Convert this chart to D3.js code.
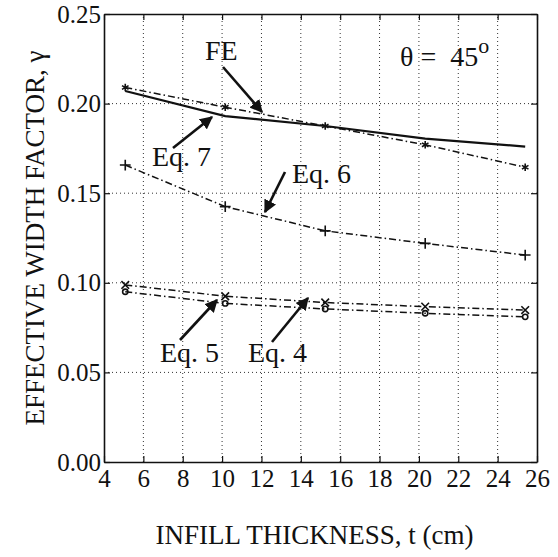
<!DOCTYPE html>
<html><head><meta charset="utf-8">
<script src="https://cdn.jsdelivr.net/npm/d3@7"></script>
</head>
<body style="margin:0;background:#fff"><svg id="c" width="558" height="557" font-family="Tinos, 'Liberation Serif', 'Times New Roman', serif"></svg>
<script>
const thickness = [5.08, 10.16, 15.24, 20.32, 25.4];
const feValues  = [0.209, 0.198, 0.1875, 0.177, 0.1645];
const eq7Values = [0.207, 0.193, 0.1875, 0.1805, 0.176];
const eq6Values = [0.1657, 0.1425, 0.129, 0.122, 0.1155];
const eq4Values = [0.0988, 0.0925, 0.089, 0.0867, 0.0848];
const eq5Values = [0.095, 0.0885, 0.0854, 0.083, 0.081];
const xTicks = [4,6,8,10,12,14,16,18,20,22,24,26];
const yTicks = [0, 0.05, 0.10, 0.15, 0.20, 0.25];
const xTitle = "INFILL THICKNESS, t (cm)";
const yTitle = "EFFECTIVE WIDTH FACTOR, \u03b3";

const W=558,H=557, m={l:104,r:21,t:14,b:95};
const svg=d3.select("#c");
const x=d3.scaleLinear().domain([4,26]).range([m.l,W-m.r]);
const y=d3.scaleLinear().domain([0,0.25]).range([H-m.b,m.t]);
const txt=(sel,size)=>sel.attr("font-size",size).attr("fill","#111");

// grid
const g=svg.append("g");
g.selectAll(".gx").data(xTicks.slice(1,-1)).join("line")
 .attr("x1",d=>x(d)).attr("x2",d=>x(d)).attr("y1",y(0)).attr("y2",y(0.25))
 .attr("stroke","#333").attr("stroke-width",1).attr("stroke-dasharray","1,3");
g.selectAll(".gy").data(yTicks.slice(1,-1)).join("line")
 .attr("y1",d=>y(d)).attr("y2",d=>y(d)).attr("x1",x(4)).attr("x2",x(26))
 .attr("stroke","#333").attr("stroke-width",1).attr("stroke-dasharray","1,3");

// axes
const ax=svg.append("g").attr("transform",`translate(0,${y(0)})`)
 .call(d3.axisBottom(x).tickValues(xTicks).tickSizeInner(-6).tickSizeOuter(0).tickPadding(7).tickFormat(d3.format("d")));
const axT=svg.append("g").attr("transform",`translate(0,${y(0.25)})`)
 .call(d3.axisTop(x).tickValues(xTicks).tickSizeInner(-6).tickSizeOuter(0).tickFormat(""));
const ay=svg.append("g").attr("transform",`translate(${x(4)},0)`)
 .call(d3.axisLeft(y).tickValues(yTicks).tickSizeInner(-6).tickSizeOuter(0).tickPadding(3).tickFormat(d3.format(".2f")));
const ayR=svg.append("g").attr("transform",`translate(${x(26)},0)`)
 .call(d3.axisRight(y).tickValues(yTicks).tickSizeInner(-6).tickSizeOuter(0).tickFormat(""));
[ax,axT,ay,ayR].forEach(a=>{
  a.attr("font-family",null).attr("font-size",null);
  a.select(".domain").attr("stroke","#111").attr("stroke-width",1.6);
  a.selectAll(".tick line").attr("stroke","#111").attr("stroke-width",1.2);
  txt(a.selectAll("text"),25);});
ax.selectAll("text").attr("font-size",25);
ay.selectAll("text").attr("dy","0.32em");

// lines
const line=vals=>d3.line().x((d,i)=>x(thickness[i])).y(d=>y(d))(vals);
const dd="7,3,1.5,3";
const series=[
 {v:feValues,dash:dd,w:1.5,sym:d3.symbolAsterisk},
 {v:eq7Values,dash:null,w:2.2,sym:null},
 {v:eq6Values,dash:dd,w:1.5,sym:d3.symbolPlus},
 {v:eq4Values,dash:dd,w:1.5,sym:d3.symbolX},
 {v:eq5Values,dash:dd,w:1.5,sym:d3.symbolCircle},
];
series.forEach(s=>{
 svg.append("path").attr("d",line(s.v)).attr("fill","none").attr("stroke","#111")
   .attr("stroke-width",s.w).attr("stroke-dasharray",s.dash);
 if(s.sym){
  svg.selectAll(null).data(s.v).join("path")
   .attr("transform",(d,i)=>`translate(${x(thickness[i])},${y(d)})`)
   .attr("d",d3.symbol().type(s.sym).size(s.sym===d3.symbolCircle?22:40))
   .attr("fill",s.sym===d3.symbolCircle?"none":"#111").attr("stroke","#111").attr("stroke-width",1.6);
 }
});

// annotations
const ann=[
 {t:"FE",tx:205,ty:60,a:[223,67,262,112]},
 {t:"Eq. 7",tx:152,ty:166,a:[173,148,212,117]},
 {t:"Eq. 6",tx:292,ty:183,a:[285,172,265,212]},
 {t:"Eq. 5",tx:160,ty:362,a:[180,340,217,300]},
 {t:"Eq. 4",tx:248,ty:362,a:[272,342,308,298]},
];
svg.append("defs").append("marker").attr("id","ah").attr("viewBox","0 0 10 10")
 .attr("refX",9).attr("refY",5).attr("markerWidth",5).attr("markerHeight",5).attr("orient","auto")
 .append("path").attr("d","M0,0L10,5L0,10z").attr("fill","#111");
ann.forEach(a=>{
 txt(svg.append("text").attr("x",a.tx).attr("y",a.ty),28).text(a.t);
 svg.append("line").attr("x1",a.a[0]).attr("y1",a.a[1]).attr("x2",a.a[2]).attr("y2",a.a[3])
  .attr("stroke","#111").attr("stroke-width",2.6).attr("marker-end","url(#ah)");
});
const th=txt(svg.append("text").attr("x",400).attr("y",66),28);
th.append("tspan").text("\u03b8 =\u00a0\u00a045");
th.append("tspan").attr("dy",-13).attr("font-size",22).text("o");

// titles
txt(svg.append("text").attr("x",(x(4)+x(26))/2-6).attr("y",544).attr("text-anchor","middle"),27).text(xTitle);
txt(svg.append("text").attr("transform",`translate(44,${(y(0)+y(0.25))/2}) rotate(-90)`)
 .attr("text-anchor","middle"),27).text(yTitle);
</script></body></html>
